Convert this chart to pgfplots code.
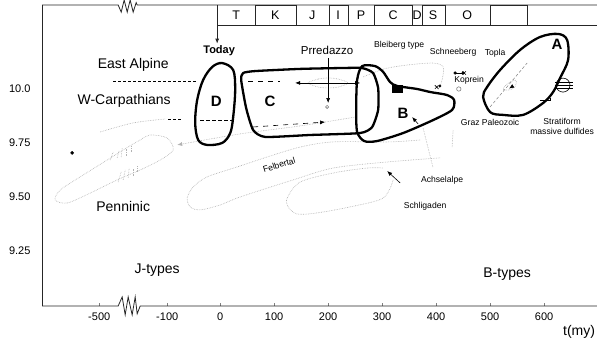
\documentclass[border=0pt]{standalone}
\usepackage{fontspec}
\setmainfont{Liberation Sans}
\usepackage{pgfplots}
\pgfplotsset{compat=1.18}
\usetikzlibrary{arrows.meta}
\newcommand\fbig{\fontsize{14}{16}\selectfont}
\newcommand\fmid{\fontsize{11.5}{13}\selectfont}
\newcommand\fsm{\fontsize{8.6}{10}\selectfont}
\begin{document}
\begin{tikzpicture}
\useasboundingbox (0,0) rectangle (597pt,345pt);
\begin{axis}[
 at={(42pt,39pt)}, anchor=south west, scale only axis,
 width=555pt, height=301pt,
 xmin=-330, xmax=698, ymin=8.995, ymax=10.389, clip=false,
 axis line style={draw=none},
 xtick={-224,-98,0,100,200,300,400,500,600},
 xticklabels={-500,-100,0,100,200,300,400,500,600},
 ytick={9.25,9.5,9.75,10},
 yticklabels={9.25,9.50,9.75,10.0},
 tick align=inside, tick pos=left,
 major tick length=3pt,
 xtick style={gray, line width=0.6pt},
 ytick style={draw=none},
 ticklabel style={font=\fontsize{11}{13}\selectfont},
 xticklabel style={yshift=-3pt},
 yticklabel style={xshift=-8pt},
 gdot/.style={gray!60, densely dotted, line width=0.65pt},
 bold/.style={black, line width=2.3pt, smooth cycle, tension=0.55},
 thin/.style={black, line width=0.6pt},
]
% axis frame with breaks
\addplot[black!85, line width=0.8pt] coordinates {(-330,8.995)(-330,10.389)};
\addplot[black!85, line width=0.8pt] coordinates {(-330,8.995)(-188.9,8.995)(-181.5,9.037)(-175.9,8.954)(-170.4,9.037)(-163.0,8.954)(-157.4,9.037)(-153.7,8.959)(-148.1,8.995)(698,8.995)};
\addplot[black!85, line width=0.8pt] coordinates {(-330,10.389)(-188.9,10.389)(-183.3,10.356)(-177.8,10.412)(-172.2,10.356)(-166.7,10.412)(-161.1,10.356)(-155.6,10.40)(-153.7,10.389)(698,10.389)};
% timeline box
\addplot[black!85, line width=0.8pt] coordinates {(-5.6,10.296)(698,10.296)};
\addplot[black!85, line width=0.8pt] coordinates {(-5.6,10.296)(64.8,10.296)(64.8,10.389)(140.7,10.389)(140.7,10.296)(201.9,10.296)(201.9,10.389)(237.0,10.389)(237.0,10.296)(285.2,10.296)(285.2,10.389)(355.6,10.389)(355.6,10.296)(374.1,10.296)(374.1,10.389)(416.7,10.389)(416.7,10.296)(500,10.296)(500,10.389)(568.5,10.389)(568.5,10.296)(698,10.296)};
\addplot[black!85, line width=0.8pt, -{Latex[length=5pt,width=4pt]}] coordinates {(-5.6,10.389)(-5.6,10.210)};
\foreach \xx/\tt in {29.6/T,101.9/K,170.4/J,218.5/I,261.1/P,320.4/C,364.8/D,394.4/S,457.4/O}{
 \edef\tmp{\noexpand\node[font=\noexpand\fontsize{12.5}{14}\noexpand\selectfont] at (axis cs:\xx,10.343) {\tt};}\tmp
}
% gray dotted loops
\addplot[gdot, smooth cycle] coordinates {(-305.6,9.486)(-283.3,9.472)(-240.7,9.518)(-190.7,9.579)(-148.1,9.625)(-111.1,9.671)(-87.0,9.718)(-98.1,9.773)(-129.6,9.787)(-148.1,9.764)(-179.6,9.718)(-209.3,9.671)(-259.3,9.593)(-296.3,9.532)};
\addplot[gdot, smooth] coordinates {(-222.2,9.801)(-161.1,9.843)(-101.9,9.861)};
\addplot[gdot, smooth] coordinates {(407.4,9.681)(309.3,9.662)(209.3,9.634)(135.2,9.579)(37.0,9.500)(0,9.463)(-37.0,9.440)(-55.6,9.454)(-61.1,9.495)(-50.0,9.546)(-24.1,9.593)(31.5,9.639)(87.0,9.685)(148.1,9.731)(209.3,9.755)(314.8,9.755)(370.4,9.764)};
\addplot[gdot, smooth] coordinates {(320.4,9.579)(301.9,9.495)(240.7,9.454)(179.6,9.426)(142.6,9.421)(125.9,9.454)(124.1,9.495)(148.1,9.569)(209.3,9.611)(272.2,9.634)(301.9,9.634)};
\addplot[gdot] coordinates {(375.9,9.819)(394.4,9.634)};
\addplot[gdot] coordinates {(431.5,9.810)(429.6,9.731)};
\addplot[gdot, smooth] coordinates {(264.8,10.056)(303.7,10.093)(346.3,10.111)(394.4,10.120)(413.0,10.102)(411.1,10.042)(403.7,9.995)};
\addplot[gdot, smooth cycle] coordinates {(163.0,10.028)(181.5,10.046)(200,10.051)(218.5,10.046)(237.0,10.028)(218.5,10.009)(200,10.005)(181.5,10.009)};
\addplot[gdot, smooth, -{Latex[length=5pt,width=4pt]}] coordinates {(250.0,9.870)(148.1,9.829)(37.0,9.792)(-79.6,9.741)};
% hatch marks
\addplot[gdot] coordinates {(-203.7,9.671)(-198.1,9.708)};
\addplot[gdot] coordinates {(-190.7,9.681)(-187.0,9.718)};
\addplot[gdot] coordinates {(-183.3,9.685)(-181.5,9.727)};
\addplot[gdot] coordinates {(-174.1,9.690)(-174.1,9.722)};
\addplot[gdot] coordinates {(-164.8,9.708)(-164.8,9.736)};
\addplot[gdot] coordinates {(-188.9,9.569)(-183.3,9.616)};
\addplot[gdot] coordinates {(-179.6,9.579)(-175.9,9.625)};
\addplot[gdot] coordinates {(-170.4,9.588)(-168.5,9.634)};
\addplot[gdot] coordinates {(-161.1,9.597)(-161.1,9.634)};
\addplot[gdot] coordinates {(-153.7,9.616)(-153.7,9.644)};
% dashed lines
\addplot[thin, dash pattern=on 3pt off 2pt] coordinates {(-198.1,10.037)(-42.6,10.037)};
\addplot[thin, dash pattern=on 5pt off 5pt] coordinates {(51.9,10.037)(111.1,10.037)};
\addplot[thin, dash pattern=on 3pt off 2pt] coordinates {(-96.3,9.861)(-70.4,9.861)};
\addplot[thin, dash pattern=on 4pt off 2pt] coordinates {(-37.0,9.856)(24.1,9.856)};
\addplot[thin, dash pattern=on 5pt off 5pt, -{Latex[length=5pt,width=4pt]}] coordinates {(61.1,9.824)(194.4,9.847)};
\addplot[thin, {Latex[length=5pt,width=4pt]}-{Latex[length=5pt,width=4pt]}] coordinates {(138.9,10.028)(259.3,10.028)};
\addplot[thin, -{Latex[length=5pt,width=4pt]}] coordinates {(200,10.143)(200,9.935)};
\addplot[thin, mark=o, mark size=1.6pt, only marks, gray] coordinates {(198.1,9.917)};
% bold shapes
\addplot[bold] coordinates {(3.7,10.120)(24.1,10.088)(27.8,9.995)(24.1,9.870)(18.5,9.795)(3.7,9.750)(-24.1,9.741)(-40.7,9.764)(-46.3,9.843)(-42.6,9.949)(-31.5,10.042)(-14.8,10.102)};
\addplot[bold, tension=0.35] coordinates {(42.6,10.074)(64.8,10.083)(148.1,10.093)(222.2,10.097)(263,10.097)(283.3,10.074)(292.6,10.005)(292.6,9.903)(281.5,9.824)(259.3,9.796)(166.7,9.787)(83.3,9.778)(61.1,9.810)(48.1,9.912)(38.9,10.042)};
\addplot[bold, tension=0.45] coordinates {(263,10.106)(287,10.106)(301.9,10.079)(314.8,10.032)(327.8,10.014)(364.8,10.000)(388.9,9.986)(420.4,9.972)(433.3,9.949)(429.6,9.903)(394.4,9.856)(338.9,9.796)(290.7,9.759)(266.7,9.759)(253.7,9.801)(251.9,9.903)(253.7,10.042)};
\addplot[bold] coordinates {(642.6,10.227)(644.4,10.134)(629.6,10.051)(616.7,9.986)(598.1,9.935)(561.1,9.880)(524.1,9.880)(500,9.893)(487,9.963)(494.4,10.009)(518.5,10.088)(555.6,10.181)(592.6,10.241)(625.9,10.255)};
\addplot[fill=black, draw=black] coordinates {(318.5,9.986)(337,9.986)(337,10.018)(318.5,10.018)} -- cycle;
% small markers
\addplot[thin, -{Latex[length=5pt,width=4pt]}] coordinates {(366.7,9.838)(355.6,9.870)};
\addplot[thin, -{Latex[length=5pt,width=4pt]}] coordinates {(333.3,9.565)(309.3,9.620)};
\addplot[thin, mark=*, mark size=1.3pt] coordinates {(435.2,10.074)(450,10.074)};
\addplot[only marks, mark=x, mark size=2.5pt, thin] coordinates {(452,10.074)(401,10.009)};
\addplot[only marks, mark=*, mark size=1.2pt] coordinates {(407,10.014)};
\addplot[only marks, mark=o, mark size=2.2pt, thin, gray] coordinates {(442,10.000)};
\addplot[gray, dash pattern=on 3pt off 2pt, line width=0.5pt] coordinates {(500,9.917)(568.5,10.120)};
\addplot[gdot, smooth cycle] coordinates {(524,10.000)(535,10.030)(548,10.040)(546,10.010)(535,9.995)};
\addplot[thin, -{Latex[length=5pt,width=4pt]}] coordinates {(540,10.010)(535,10.002)};
\addplot[only marks, mark=o, mark size=7pt, thin] coordinates {(635,10.018)};
\addplot[thin] coordinates {(620,10.032)(654,10.032)};
\addplot[thin] coordinates {(620,10.018)(654,10.018)};
\addplot[thin] coordinates {(620,10.004)(654,10.004)};
\addplot[thin] coordinates {(592,9.949)(611,9.949)(611,9.960)};
\addplot[only marks, mark=*, mark size=1.6pt] coordinates {(-274.1,9.704)};
% labels
\node[font=\bfseries\fontsize{11}{13}\selectfont] at (axis cs:-1.9,10.176) {Today};
\node[font=\fbig] at (axis cs:-161.1,10.111) {East Alpine};
\node[font=\fbig] at (axis cs:-177.8,9.944) {W-Carpathians};
\node[font=\fbig] at (axis cs:-179.6,9.454) {Penninic};
\node[font=\fbig] at (axis cs:-116.7,9.162) {J-types};
\node[font=\fbig] at (axis cs:531.5,9.143) {B-types};
\node[font=\fbig] at (axis cs:664.8,8.875) {t(my)};
\node[font=\bfseries\fontsize{15}{17}\selectfont] at (axis cs:-7.4,9.944) {D};
\node[font=\bfseries\fontsize{15}{17}\selectfont] at (axis cs:92.6,9.944) {C};
\node[font=\bfseries\fontsize{15}{17}\selectfont] at (axis cs:338.9,9.889) {B};
\node[font=\bfseries\fontsize{15}{17}\selectfont] at (axis cs:624.1,10.208) {A};
\node[font=\fmid] at (axis cs:198.1,10.181) {Prredazzo};
\node[font=\fsm] at (axis cs:331.5,10.204) {Bleiberg type};
\node[font=\fsm] at (axis cs:431.5,10.171) {Schneeberg};
\node[font=\fsm] at (axis cs:509.3,10.167) {Topla};
\node[font=\fsm] at (axis cs:461.1,10.042) {Koprein};
\node[font=\fsm] at (axis cs:500,9.843) {Graz Paleozoic};
\node[font=\fsm] at (axis cs:633.3,9.852) {Stratiform};
\node[font=\fsm] at (axis cs:633.3,9.805) {massive dulfides};
\node[font=\fsm, rotate=17] at (axis cs:109.3,9.648) {Felbertal};
\node[font=\fsm] at (axis cs:411.1,9.579) {Achselalpe};
\node[font=\fsm] at (axis cs:379.6,9.458) {Schligaden};
\end{axis}
\end{tikzpicture}
\end{document}
